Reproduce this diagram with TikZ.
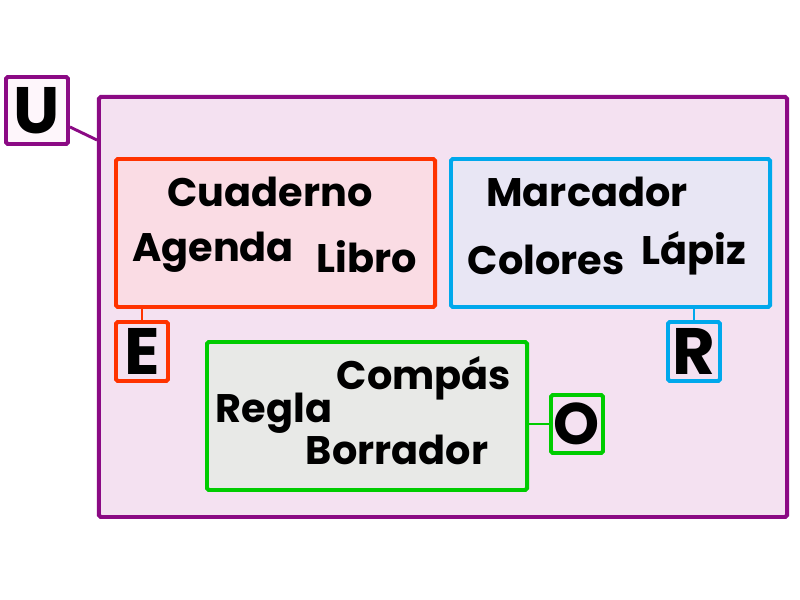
\documentclass[tikz,border=0pt]{standalone}
\usepackage{fontspec}
\setmainfont{Poppins}
\usetikzlibrary{positioning}
\definecolor{morado}{HTML}{8B0A84}
\definecolor{moradoclaro}{HTML}{F4E1F1}
\definecolor{blanco}{HTML}{FEF6FB}
\definecolor{rojo}{HTML}{FF3300}
\definecolor{rojoclaro}{HTML}{FADCE4}
\definecolor{azul}{HTML}{00A8EC}
\definecolor{azulclaro}{HTML}{E8E6F4}
\definecolor{verde}{HTML}{00CC00}
\definecolor{verdeclaro}{HTML}{E8E9E7}

\begin{document}
\begin{tikzpicture}[x=0.03cm,y=-0.03cm,
    caja/.style={draw, rectangle, rounded corners=1.5pt, line width=3.4pt, inner sep=0pt},
    letra/.style={caja, fill=moradoclaro, minimum width=1.56cm, minimum height=1.77cm,
                  font=\fontsize{56}{60}\selectfont\bfseries},
    palabra/.style={anchor=base, font=\fontsize{34}{40}\selectfont\bfseries},
    enlace/.style={line width=1.7pt}]
    \useasboundingbox (0,0) rectangle (800,600);
    % marco general y grupos
    \node[caja, draw=morado, fill=moradoclaro, minimum width=20.64cm, minimum height=12.6cm] (util) at (443,307) {};
    \node[caja, draw=rojo, fill=rojoclaro, minimum width=9.57cm, minimum height=4.44cm] (cuad) at (275.5,233) {};
    \node[caja, draw=azul, fill=azulclaro, minimum width=9.57cm, minimum height=4.44cm] (colr) at (610.5,233) {};
    \node[caja, draw=verde, fill=verdeclaro, minimum width=9.6cm, minimum height=4.44cm] (geom) at (367,416) {};
    % etiquetas
    \node[letra, draw=morado, fill=blanco, minimum width=1.86cm, minimum height=2.01cm] (labU) at (37,110.5) {U};
    \node[letra, draw=rojo] (labE) at (142,351.5) {E};
    \node[letra, draw=azul] (labR) at (694,351.5) {R};
    \node[letra, draw=verde, minimum height=1.74cm, font=\fontsize{50}{60}\selectfont\bfseries] (labO) at (577,424) {O};
    % enlaces
    \draw[enlace, morado, line width=2.5pt] (labU.east |- 0,127) -- (util.west |- 0,140);
    \draw[enlace, rojo] (labE.north) -- (labE.north |- cuad.south);
    \draw[enlace, azul] (labR.north) -- (labR.north |- colr.south);
    \draw[enlace, verde] (labO.west) -- (labO.west -| geom.east);
    % contenido
    \node[palabra] (cuaderno) at (270,207) {Cuaderno};
    \node[palabra] (agenda)   at (213,262) {Agenda};
    \node[palabra] (libro)    at (367,273) {Libro};
    \node[palabra] (marcador) at (587,207) {Marcador};
    \node[palabra] (colores)  at (546,275) {Colores};
    \node[palabra] (lapiz)    at (694,265) {Lápiz};
    \node[palabra] (compas)   at (424,390) {Compás};
    \node[palabra] (regla)    at (274,423) {Regla};
    \node[palabra] (borrador) at (397,465) {Borrador};
\end{tikzpicture}
\end{document}
